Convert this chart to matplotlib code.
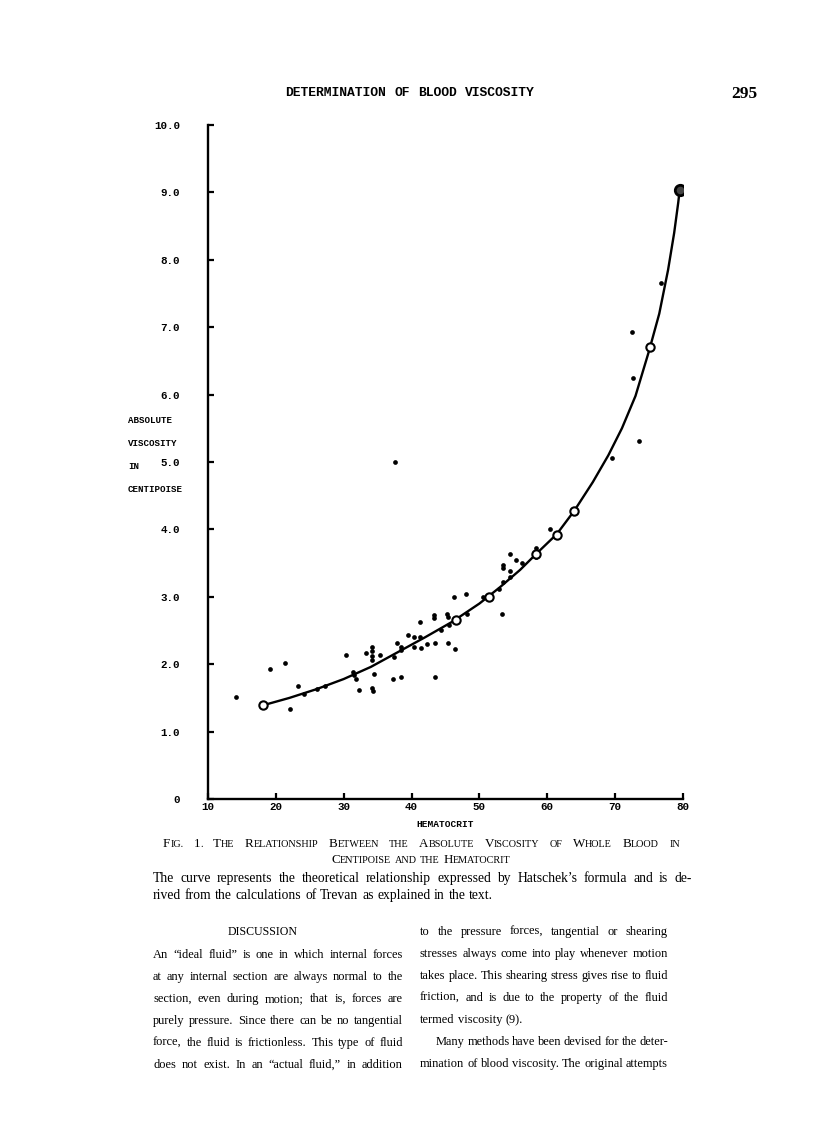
import numpy as np
import matplotlib.pyplot as plt

W, H, DPI = 816, 1121, 100
SERIF = 'Liberation Serif'

# measured points (hematocrit %, viscosity cP)
dot_hct = [14.1, 19.1, 21.3, 22.1, 23.2, 24.2, 26.1, 27.3, 30.3, 31.3, 31.5, 31.8,
           32.3, 33.3, 34.2, 34.2, 34.2, 34.2, 34.4, 34.2, 34.3, 35.3, 37.2, 38.4,
           37.4, 37.9, 38.4, 38.4, 39.4, 40.3, 40.3, 41.3, 41.4, 42.3, 43.3, 43.3,
           43.4, 43.4, 44.4, 45.2, 45.3, 45.5, 45.3, 46.4, 46.3, 48.0, 48.1, 50.5,
           52.9, 53.3, 53.5, 53.5, 54.5, 54.5, 53.4, 55.4, 54.5, 56.3, 58.4, 58.4,
           60.4, 69.6, 73.5, 72.6, 72.5, 76.7, 37.6, 41.3]
dot_visc = [1.52, 1.93, 2.02, 1.33, 1.67, 1.56, 1.63, 1.67, 2.14, 1.89, 1.84, 1.78,
            1.61, 2.16, 2.25, 2.19, 2.12, 2.06, 1.86, 1.64, 1.60, 2.14, 1.78, 1.81,
            2.11, 2.32, 2.25, 2.21, 2.44, 2.40, 2.25, 2.63, 2.24, 2.30, 2.73, 2.68,
            2.31, 1.81, 2.51, 2.75, 2.70, 2.58, 2.31, 2.22, 3.00, 3.04, 2.75, 3.00,
            3.11, 2.75, 3.47, 3.42, 3.39, 3.30, 3.22, 3.54, 3.64, 3.50, 3.72, 3.59,
            4.01, 5.06, 5.31, 6.24, 6.93, 7.66, 5.00, 2.41]

# theoretical curve (Hatschek / Trevan)
curve_hct = [18.1, 22, 26, 30, 34, 38, 42, 46, 50, 53, 56, 58.4, 61.4, 64, 66.7,
             69, 71, 73, 75, 76.5, 77.8, 78.7, 79.3, 79.5]
curve_visc = [1.39, 1.50, 1.63, 1.78, 1.96, 2.18, 2.40, 2.63, 2.90, 3.14, 3.40, 3.64,
              3.93, 4.28, 4.70, 5.10, 5.50, 5.98, 6.65, 7.20, 7.85, 8.40, 8.85, 9.03]
circle_hct = [18.1, 46.6, 51.4, 58.4, 61.4, 64.0, 75.1]
circle_visc = [1.39, 2.66, 3.00, 3.64, 3.92, 4.28, 6.71]
end_hct = [79.5]
end_visc = [9.03]

xticks = [10, 20, 30, 40, 50, 60, 70, 80]
xtick_labels = ['10', '20', '30', '40', '50', '60', '70', '80']
yticks = [0, 1, 2, 3, 4, 5, 6, 7, 8, 9, 10]
ytick_labels = ['0', '1.0', '2.0', '3.0', '4.0', '5.0', '6.0', '7.0', '8.0', '9.0', '10.0']
ylabel_lines = ['ABSOLUTE', 'VISCOSITY', 'IN', 'CENTIPOISE']

header = 'DETERMINATION OF BLOOD VISCOSITY'
page_no = '295'
cap1 = 'Fig. 1.  The Relationship Between the Absolute Viscosity of Whole Blood in'
cap2 = 'Centipoise and the Hematocrit'
note1 = "The curve represents the theoretical relationship expressed by Hatschek\u2019s formula and is de-"
note2 = 'rived from the calculations of Trevan as explained in the text.'
left_col = ['An \u201cideal fluid\u201d is one in which internal forces',
            'at any internal section are always normal to the',
            'section, even during motion; that is, forces are',
            'purely pressure. Since there can be no tangential',
            'force, the fluid is frictionless. This type of fluid',
            'does not exist. In an \u201cactual fluid,\u201d in addition']
right_col = ['to the pressure forces, tangential or shearing',
             'stresses always come into play whenever motion',
             'takes place. This shearing stress gives rise to fluid',
             'friction, and is due to the property of the fluid',
             'termed viscosity (9).',
             'Many methods have been devised for the deter-',
             'mination of blood viscosity. The original attempts']

fig = plt.figure(figsize=(W / DPI, H / DPI), dpi=DPI, facecolor='white')
ax = fig.add_axes([208 / W, 1 - 799 / H, 475 / W, 674 / H])

ax.plot(curve_hct, curve_visc, color='black', lw=1.7, solid_capstyle='round')
ax.plot(dot_hct, dot_visc, 'o', color='black', ms=3.4, mew=0)
ax.plot(circle_hct, circle_visc, 'o', mfc='white', mec='black', ms=6, mew=1.5)
ax.plot(end_hct, end_visc, 'o', mfc='#444444', mec='black', ms=7.5, mew=2)

ax.set_xlim(10, 80)
ax.set_ylim(0, 10)
for s in ['top', 'right']:
    ax.spines[s].set_visible(False)
for s in ['left', 'bottom']:
    ax.spines[s].set_linewidth(1.7)
ax.set_xticks(xticks, xtick_labels, family='Liberation Mono', weight='bold', fontsize=7.8)
ax.set_yticks(yticks, ytick_labels, family='Liberation Mono', weight='bold', fontsize=7.8)
ax.tick_params(axis='both', direction='in', length=4, width=1.6)
ax.tick_params(axis='y', pad=20)
ax.tick_params(axis='x', pad=2)
ax.set_xlabel('HEMATOCRIT', family='Liberation Mono', weight='bold', fontsize=6.8, labelpad=6)

for i, t in enumerate(ylabel_lines):
    fig.text(128 / W, 1 - (423 + 23 * i) / H, t, family='Liberation Mono',
             weight='bold', fontsize=6.6, va='baseline')

# ---- page text ----
fig.canvas.draw()
r = fig.canvas.get_renderer()


def px(x, y):
    return x / W, 1 - y / H


def smallcaps(word, big, small):
    pieces = []
    for ch in word:
        size = small if ch.islower() or ch in '.,' else big
        txt = ch.upper()
        if pieces and pieces[-1][1] == size:
            pieces[-1] = (pieces[-1][0] + txt, size)
        else:
            pieces.append((txt, size))
    return pieces


def text_width(s, size, family=SERIF):
    t = fig.text(0, 0, s, fontsize=size, family=family)
    w = t.get_window_extent(r).width
    t.remove()
    return w


def fit_size(lines, width, size, min_gap=0.2):
    # largest size (<= size) at which every justified line still fits
    best = size
    for line in lines:
        words = line.split()
        total = sum(text_width(w, size) for w in words)
        need = total + min_gap * size * DPI / 72 * (len(words) - 1)
        best = min(best, size * width / need)
    return best


def set_line(words, x0, y, x1=None, mode='left', size=9, family=SERIF, weight='normal'):
    arts = []
    total = 0
    for w in words:
        pa = [fig.text(0, 0, t, fontsize=s, family=family, weight=weight, va='baseline') for t, s in w]
        pw = [a.get_window_extent(r).width for a in pa]
        arts.append((pa, pw))
        total += sum(pw)
    gap = 0.27 * size * DPI / 72
    if mode == 'justify' and len(words) > 1:
        gap = (x1 - x0 - total) / (len(words) - 1)
        cur = x0
    elif mode == 'center':
        cur = x0 - (total + gap * (len(words) - 1)) / 2
    else:
        cur = x0
    for pa, pw in arts:
        for a, w in zip(pa, pw):
            a.set_position(px(cur, y))
            cur += w
        cur += gap


def plain(line, size):
    return [[(w, size)] for w in line.split()]


# header
set_line(plain(header, 9.4), 285, 96, 535, mode='justify', size=9.4,
         family='Liberation Mono', weight='bold')
set_line([[(page_no, 12.5)]], 731, 98, size=12.5, weight='bold')

# caption
cap_words = [smallcaps(w, 9.4, 7.3) for w in cap1.split()]
set_line(cap_words, 163, 847, 680, mode='justify', size=9.4)
set_line([smallcaps(w, 9.4, 7.3) for w in cap2.split()], 421, 863, mode='center', size=9.4)
NOTE = fit_size([note1], 692 - 153, 9.8)
set_line(plain(note1, NOTE), 153, 882, 692, mode='justify', size=NOTE)
set_line(plain(note2, NOTE), 153, 899, size=NOTE)

# body, two columns
set_line([smallcaps('discussion', 9.5, 8.6)], 263, 935, mode='center', size=9.5)
just_right = [l for l in right_col if not l.endswith('(9).') and not l.startswith('Many')]
BODY = min(fit_size(left_col, 250, 10.5), fit_size(just_right, 248, 10.5),
           fit_size(right_col[5:6], 232, 10.5))
for i, line in enumerate(left_col):
    set_line(plain(line, BODY), 153, 958 + 22 * i, 403, mode='justify', size=BODY)
for i, line in enumerate(right_col):
    y = 935 + 22 * i
    if line.endswith('(9).'):
        set_line(plain(line, BODY), 420, y, size=BODY)
    elif line.startswith('Many'):
        set_line(plain(line, BODY), 436, y, 668, mode='justify', size=BODY)
    else:
        set_line(plain(line, BODY), 420, y, 668, mode='justify', size=BODY)

fig.savefig('out.png', dpi=DPI, facecolor='white')
